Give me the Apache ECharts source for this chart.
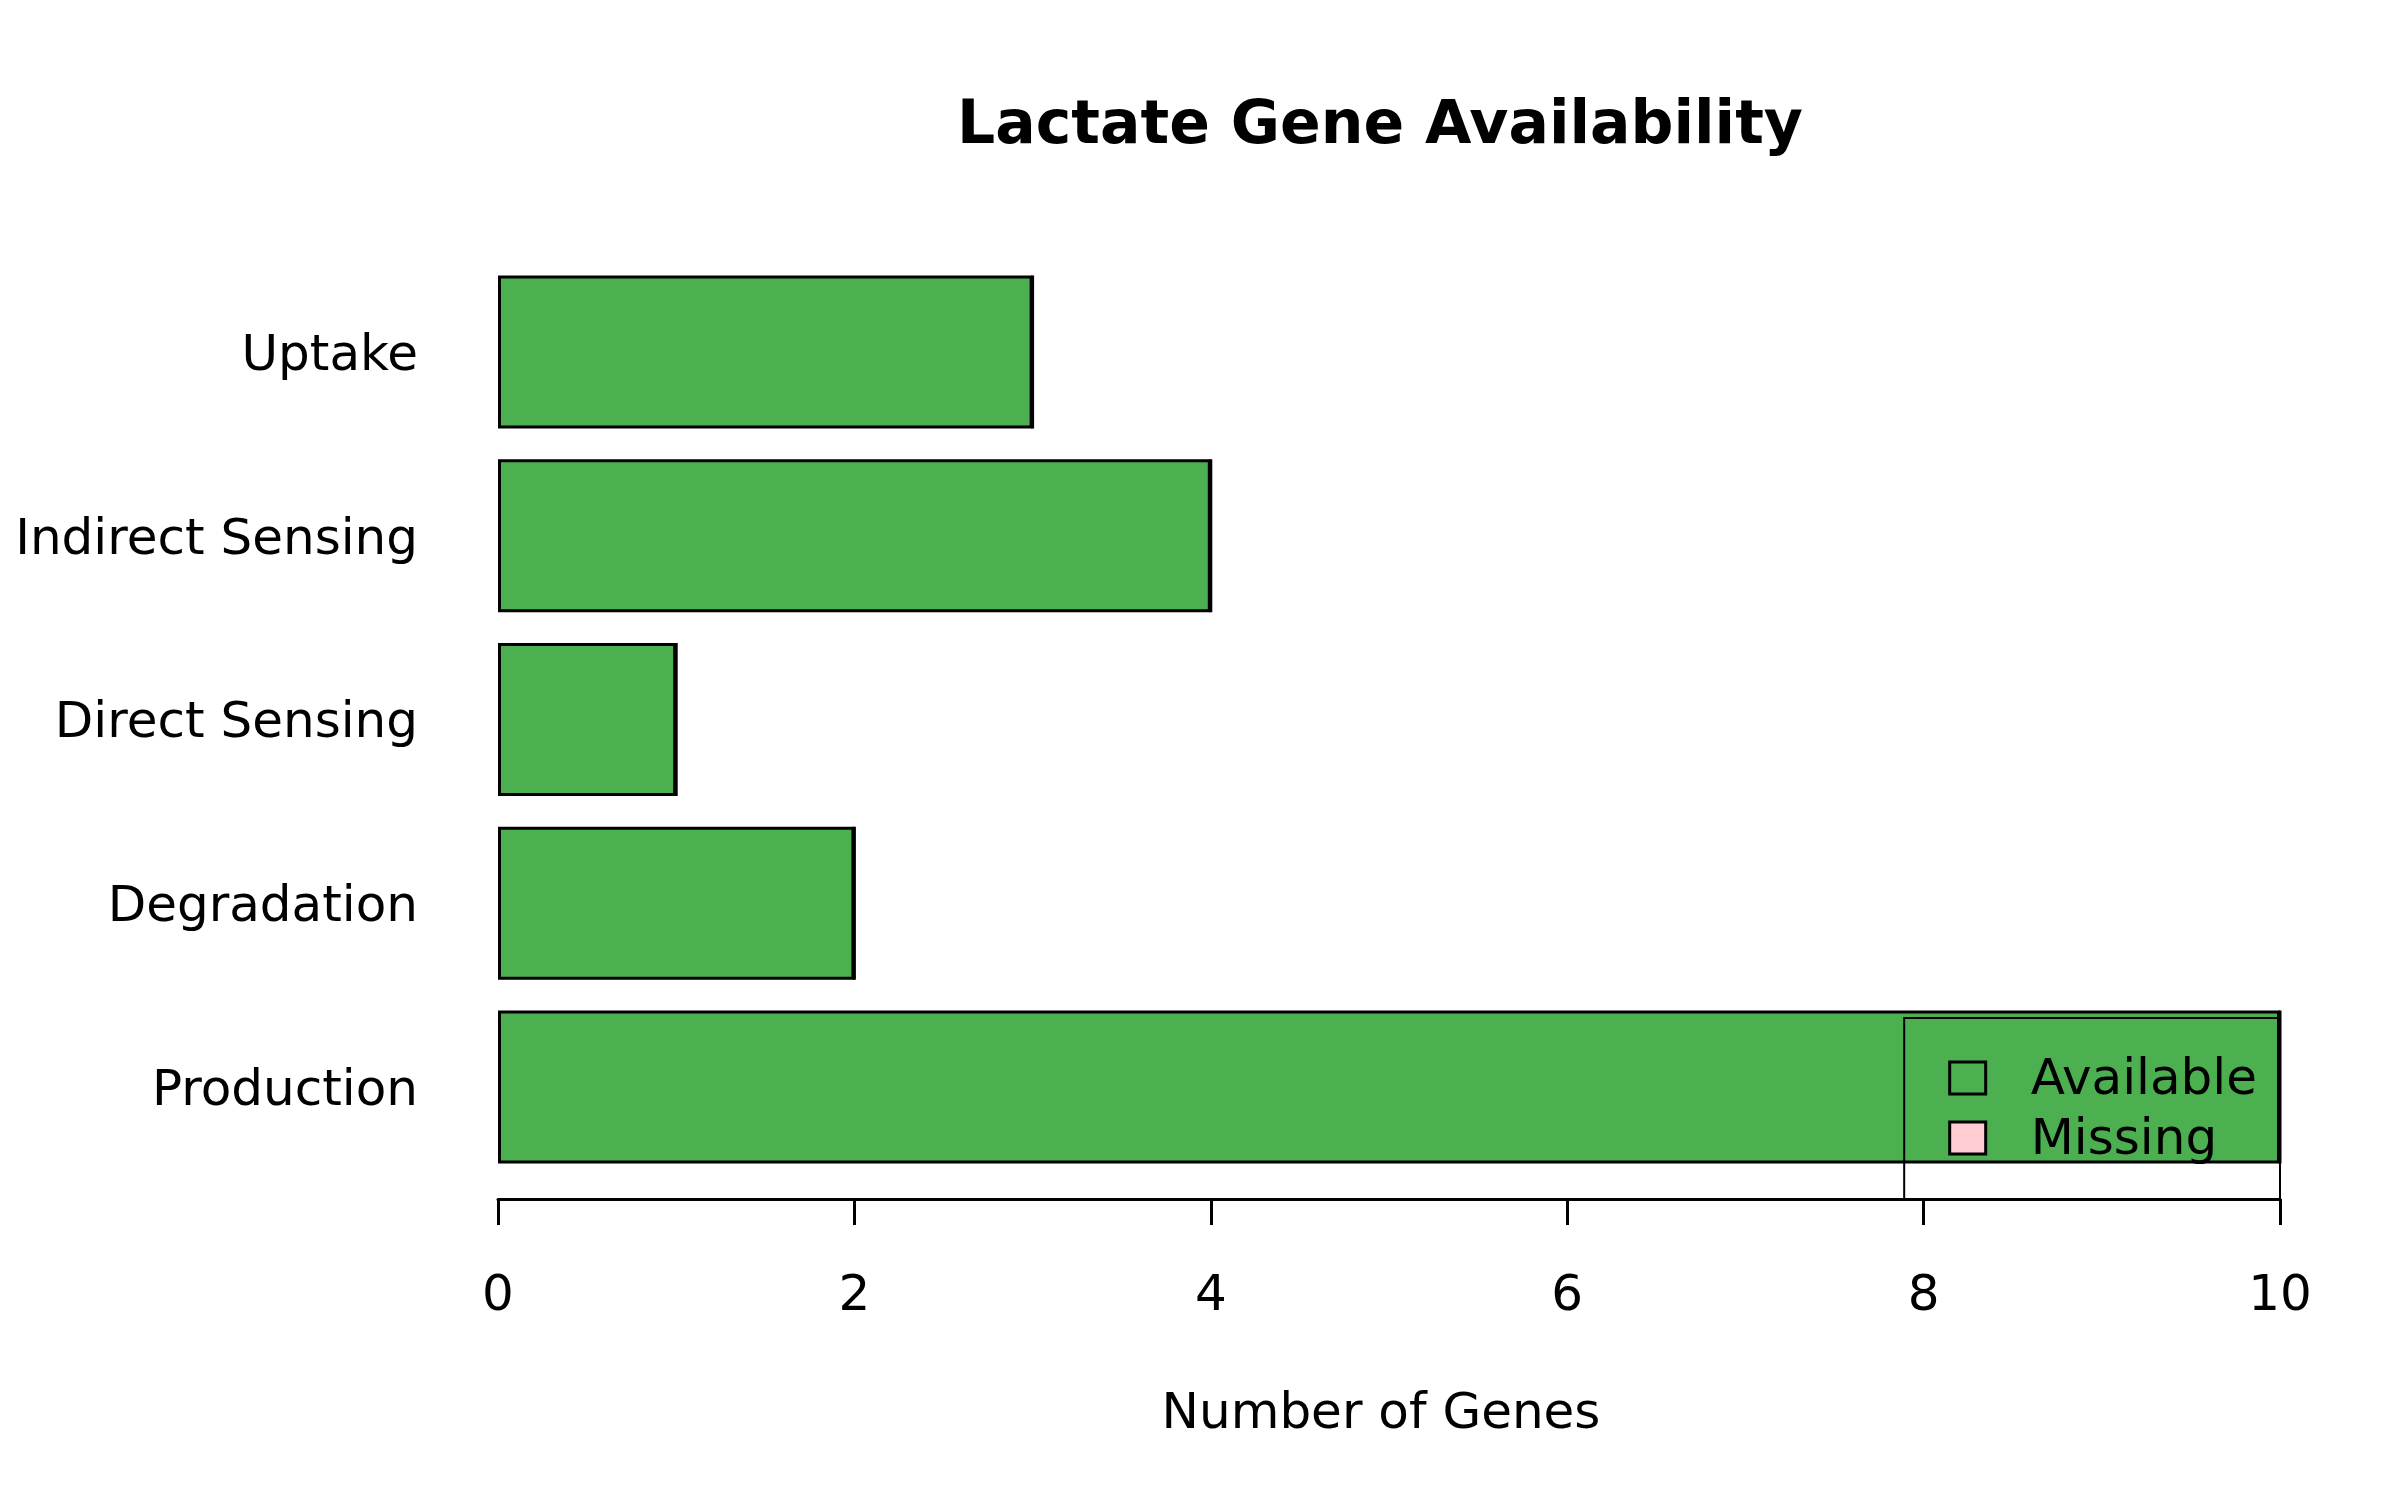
<!DOCTYPE html>
<html>
<head>
<meta charset="utf-8">
<title>Lactate Gene Availability</title>
<script src="https://cdn.jsdelivr.net/npm/echarts@6/dist/echarts.min.js"></script>
<style>
  html, body { margin: 0; padding: 0; background: #fff; }
  #chart { width: 2400px; height: 1500px; }
</style>
</head>
<body>
<div id="chart"></div>
<script>
// data, bottom to top as drawn
const categories = ['Production', 'Degradation', 'Direct Sensing', 'Indirect Sensing', 'Uptake'];
const availableCounts = [10, 2, 1, 4, 3];
const missingCounts = [0, 0, 0, 0, 0];
const xTicks = { min: 0, max: 10, interval: 2 };

const colors = {
  available: '#4CAF50',
  missing: '#FFCDD2',
  ink: '#000000'
};
const fontFamily = '"DejaVu Sans", Verdana, sans-serif';

const chart = echarts.init(document.getElementById('chart'));

chart.setOption({
  backgroundColor: '#ffffff',
  animation: false,
  textStyle: { fontFamily: fontFamily, color: colors.ink },
  title: {
    text: 'Lactate Gene Availability',
    left: 1375,
    top: 92,
    textAlign: 'center',
    textStyle: { fontFamily: fontFamily, fontSize: 60, fontWeight: 'bold', color: colors.ink }
  },
  grid: { left: 498, right: 120, top: 260, bottom: 321, containLabel: false },
  legend: {
    orient: 'vertical',
    right: 120,
    bottom: 301,
    align: 'left',
    padding: [38, 23, 33, 44],
    itemGap: 10,
    itemWidth: 36,
    itemHeight: 32,
    icon: 'rect',
    borderColor: colors.ink,
    borderWidth: 2,
    backgroundColor: 'transparent',
    formatter: name => '{l|' + name + '}',
    textStyle: {
      fontFamily: fontFamily, fontSize: 50, color: colors.ink, padding: [0, 0, 0, 40],
      rich: { l: { fontFamily: fontFamily, fontSize: 50, color: colors.ink, padding: [6, 0, 0, 0] } }
    },
    data: [
      { name: 'Available', itemStyle: { color: 'transparent', borderColor: colors.ink, borderWidth: 3 } },
      { name: 'Missing', itemStyle: { color: colors.missing, borderColor: colors.ink, borderWidth: 3 } }
    ]
  },
  xAxis: {
    type: 'value',
    min: xTicks.min,
    max: xTicks.max,
    interval: xTicks.interval,
    offset: 20,
    name: 'Number of Genes',
    nameLocation: 'middle',
    nameGap: 191,
    nameTextStyle: { fontFamily: fontFamily, fontSize: 50, color: colors.ink, padding: [0, 16, 0, 0] },
    axisLine: { show: true, lineStyle: { color: colors.ink, width: 3 } },
    axisTick: { show: true, inside: false, length: 26, lineStyle: { color: colors.ink, width: 3 } },
    axisLabel: { fontFamily: fontFamily, fontSize: 50, color: colors.ink, margin: 73 },
    splitLine: { show: false }
  },
  yAxis: {
    type: 'category',
    data: categories,
    axisLine: { show: false },
    axisTick: { show: false },
    axisLabel: {
      margin: 80,
      formatter: value => '{l|' + value + '}',
      rich: { l: { fontFamily: fontFamily, fontSize: 50, color: colors.ink, padding: [10, 0, 0, 0] } }
    },
    splitLine: { show: false }
  },
  series: [
    {
      name: 'Available',
      type: 'bar',
      stack: 'genes',
      data: availableCounts,
      barWidth: 153,
      itemStyle: { color: colors.available, borderColor: colors.ink, borderWidth: 3 }
    },
    {
      name: 'Missing',
      type: 'bar',
      stack: 'genes',
      data: missingCounts,
      barWidth: 153,
      itemStyle: { color: colors.missing, borderColor: colors.ink, borderWidth: 3 }
    }
  ]
});
</script>
</body>
</html>
